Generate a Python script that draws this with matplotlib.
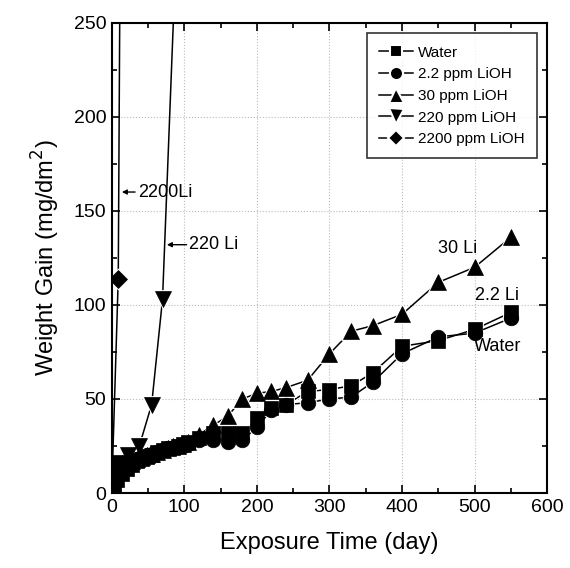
import matplotlib
matplotlib.use("Agg")
import matplotlib.pyplot as plt
from matplotlib.lines import Line2D

plt.rcParams["font.family"] = ["Liberation Sans", "DejaVu Sans"]

# exposure days and weight gain (mg/dm^2) per solution
base_days = [3, 7, 14, 21, 28, 35, 42, 49, 56, 63, 70, 77, 84, 91, 98, 105, 120,
	140, 160, 180, 200, 220, 240, 270, 300, 330, 360, 400, 450, 500, 550]

water_gain = [4, 7, 10, 13, 15, 17, 18, 19, 20, 22, 23, 24, 24, 25, 26, 27, 29,
	32, 32, 32, 40, 45, 47, 54, 55, 57, 64, 78, 81, 87, 96]
li2_gain = [14, 15, 16, 16, 17, 18, 19, 20, 21, 22, 23, 24, 24, 25, 25, 26, 28,
	28, 27, 28, 35, 44, 47, 48, 50, 51, 59, 74, 83, 85, 93]
li30_gain = [13, 15, 16, 17, 17, 18, 19, 20, 21, 22, 23, 24, 25, 25, 26, 27, 31,
	36, 41, 50, 53, 54, 56, 60, 74, 86, 89, 95, 112, 120, 136]

li220_days = [3, 10, 22, 38, 55, 70, 98]
li220_gain = [12, 16, 20, 25, 47, 103, 380]

li2200_days = [0, 9, 16]
li2200_gain = [1, 114, 590]

series = [
	(base_days, water_gain, "s", 9.5, "Water"),
	(base_days, li2_gain, "o", 10.5, "2.2 ppm LiOH"),
	(base_days, li30_gain, "^", 12, "30 ppm LiOH"),
	(li220_days, li220_gain, "v", 12, "220 ppm LiOH"),
	(li2200_days, li2200_gain, "D", 9, "2200 ppm LiOH"),
]

fig = plt.figure(figsize=(5.70, 5.68), dpi=100)
ax = fig.add_axes((0.196, 0.132, 0.764, 0.828))

# pass 1: lines with a white gap round each symbol
for days, gain, mk, ms, lab in series:
	ax.plot(days, gain, color="black", lw=1.1, marker=mk, ms=ms,
		mfc="white", mec="white", mew=2.0, zorder=2)
# pass 2: solid symbols on top
for days, gain, mk, ms, lab in series:
	ax.plot(days, gain, ls="none", marker=mk, ms=ms, mfc="black", mec="black",
		mew=0.5, zorder=3)

ax.set_xlim(0, 600)
ax.set_ylim(0, 250)
ax.set_xticks(range(0, 601, 100))
ax.set_xticks(range(50, 600, 100), minor=True)
ax.set_yticks(range(0, 251, 50))
ax.set_yticks(range(25, 250, 50), minor=True)
ax.grid(True, which="major", color="#bbbbbb", ls=":", lw=0.8)
ax.set_axisbelow(True)
ax.tick_params(which="both", direction="in", top=True, right=True, width=1.2)
ax.tick_params(which="major", length=6, labelsize=14, pad=4)
ax.tick_params(which="minor", length=3.5)
for sp in ax.spines.values():
	sp.set_linewidth(1.5)

ax.set_xlabel("Exposure Time (day)", fontsize=17, labelpad=12)
ax.set_ylabel("Weight Gain (mg/dm$^2$)", fontsize=17, labelpad=8)

# curve labels
arrow = dict(arrowstyle="-|>", color="black", lw=1, mutation_scale=7, shrinkA=0, shrinkB=0)
ax.annotate("2200Li", xy=(14, 160), xytext=(36, 160), fontsize=13,
	va="center", ha="left", arrowprops=arrow)
ax.annotate("220 Li", xy=(76, 132), xytext=(107, 132), fontsize=13,
	va="center", ha="left", arrowprops=arrow)
ax.text(449, 130, "30 Li", fontsize=13, va="center", ha="left")
ax.text(531, 105, "2.2 Li", fontsize=13, va="center", ha="center")
ax.text(531, 78, "Water", fontsize=13, va="center", ha="center")

handles = [Line2D([], [], color="black", lw=1.1, marker=mk, ms=ms * 0.9,
	mfc="black", mec="white", mew=1.5) for _, _, mk, ms, _ in series]
labels = [s[4] for s in series]
leg = ax.legend(handles, labels, loc="upper right", fontsize=11, frameon=True,
	fancybox=False, edgecolor="black", handlelength=2.2, handletextpad=0.3,
	labelspacing=0.5, borderaxespad=0.7, borderpad=0.8)
leg.get_frame().set_linewidth(1.2)
leg.set_zorder(5)

fig.savefig("out.png", dpi=100)
